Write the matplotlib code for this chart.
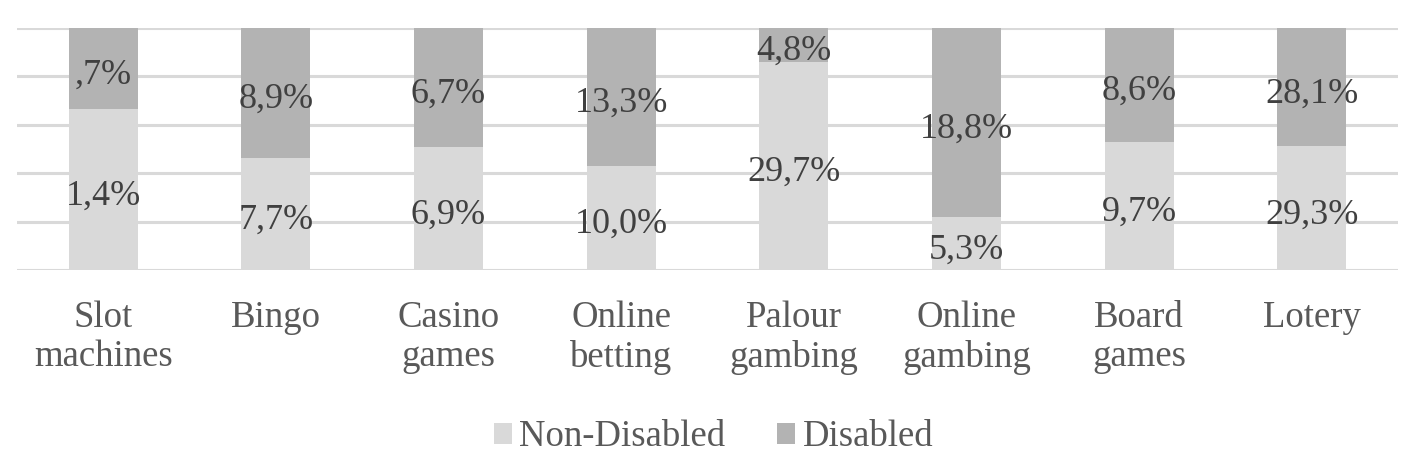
import matplotlib
matplotlib.use("Agg")
import matplotlib.pyplot as plt
import numpy as np
from matplotlib.transforms import ScaledTranslation

categories = ["Slot\nmachines", "Bingo", "Casino\ngames", "Online\nbetting",
              "Palour\ngambing", "Online\ngambing", "Board\ngames", "Lotery"]
non_disabled = [1.4, 7.7, 6.9, 10.0, 29.7, 5.3, 9.7, 29.3]
disabled = [0.7, 8.9, 6.7, 13.3, 4.8, 18.8, 8.6, 28.1]
non_labels = ["1,4%", "7,7%", "6,9%", "10,0%", "29,7%", "5,3%", "9,7%", "29,3%"]
dis_labels = [",7%", "8,9%", "6,7%", "13,3%", "4,8%", "18,8%", "8,6%", "28,1%"]

plt.rcParams['font.family'] = ['Liberation Serif', 'DejaVu Serif']

nd = np.array(non_disabled)
d = np.array(disabled)
tot = nd + d
nd_s = nd / tot
d_s = d / tot

fig = plt.figure(figsize=(14.17, 4.63), dpi=100)
ax = fig.add_axes([17/1417, 1 - 270/463, (1398-17)/1417, (270-28)/463])
x = np.arange(len(categories))
c_light = "#d9d9d9"
c_dark = "#b3b3b3"
ax.bar(x, nd_s, width=0.4, color=c_light, label="Non-Disabled", zorder=2)
ax.bar(x, d_s, width=0.4, bottom=nd_s, color=c_dark, label="Disabled", zorder=2)

for yv in np.linspace(0, 1, 6):
    ax.axhline(yv, color="#d9d9d9", lw=2.2, zorder=1)

tc = "#404040"
off = ax.transData + ScaledTranslation(0, -2.5/100, fig.dpi_scale_trans)
for i in range(len(categories)):
    ax.text(x[i], nd_s[i] / 2, non_labels[i], ha="center", va="center_baseline",
            fontsize=26, color=tc, zorder=3, transform=off)
    ax.text(x[i], nd_s[i] + d_s[i] / 2, dis_labels[i], ha="center", va="center_baseline",
            fontsize=26, color=tc, zorder=3, transform=off)

ax.set_xlim(-0.5, len(categories) - 0.5)
ax.set_ylim(0, 1)
ax.set_yticks([])
ax.set_xticks(x)
ax.set_xticklabels(categories, fontsize=26.5, color="#595959", linespacing=1.18)
ax.tick_params(axis="x", length=0, pad=22)
for s in ax.spines.values():
    s.set_visible(False)

fig.legend(loc="center", bbox_to_anchor=(0.5 + 5/1417, 1 - 437/463), ncol=2, frameon=False,
           fontsize=26.5, labelcolor="#595959", handlelength=0.5, handleheight=0.5,
           handletextpad=0.2, columnspacing=1.4)

fig.savefig("out.png", dpi=100)
